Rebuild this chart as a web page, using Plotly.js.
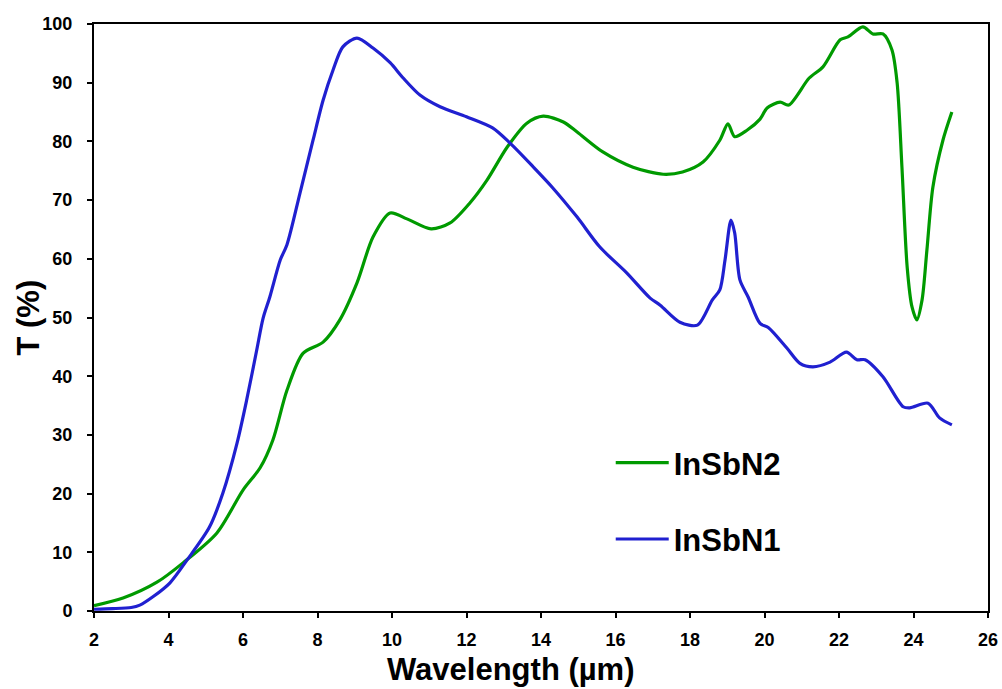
<!DOCTYPE html>
<html>
<head>
<meta charset="utf-8">
<script src="https://cdn.plot.ly/plotly-3.0.1.min.js"></script>
<style>html,body{margin:0;padding:0;background:#fff;}#chart{width:1002px;height:689px;}</style>
</head>
<body>
<div id="chart"></div>
<script>
// InSbN1 (blue)
const n1Wavelength = [2.0, 2.5, 3.0, 3.23, 3.6, 4.04, 4.5, 5.1, 5.46, 5.84, 6.1, 6.37, 6.54, 6.72, 7.0, 7.18, 7.53, 7.88, 8.15, 8.42, 8.68, 9.06, 9.49, 9.95, 10.3, 10.75, 11.29, 12.0, 12.7, 13.17, 13.8, 14.3, 14.97, 15.58, 16.3, 16.93, 17.2, 17.73, 18.2, 18.6, 18.8, 18.94, 19.1, 19.2, 19.34, 19.56, 19.88, 20.1, 20.6, 20.95, 21.3, 21.76, 22.2, 22.48, 22.7, 23.18, 23.72, 23.9, 24.39, 24.7, 25.03];
const n1T = [0.3, 0.4, 0.6, 1.0, 2.5, 4.8, 8.7, 14.3, 20.1, 28.6, 36.0, 44.5, 49.9, 53.5, 59.8, 62.4, 71.2, 80.2, 87.0, 92.2, 96.1, 97.6, 95.9, 93.4, 90.8, 87.9, 85.9, 84.2, 82.3, 79.7, 75.6, 72.2, 67.1, 62.0, 57.6, 53.3, 52.1, 49.2, 48.7, 53.0, 54.7, 59.8, 66.6, 64.4, 56.4, 53.5, 49.0, 48.3, 44.8, 42.2, 41.6, 42.4, 44.1, 42.8, 42.8, 39.9, 34.8, 34.6, 35.4, 32.9, 31.7];
// InSbN2 (green)
const n2Wavelength = [2.0, 2.78, 3.69, 4.39, 5.3, 6.0, 6.46, 6.8, 7.18, 7.61, 8.15, 8.6, 9.06, 9.49, 9.95, 10.4, 11.05, 11.56, 12.09, 12.55, 13.09, 13.62, 14.06, 14.6, 14.97, 15.66, 16.47, 17.28, 17.8, 18.35, 18.8, 19.02, 19.2, 19.53, 19.88, 20.07, 20.42, 20.65, 21.2, 21.57, 22.03, 22.24, 22.64, 22.91, 23.18, 23.42, 23.56, 23.69, 23.83, 23.96, 24.09, 24.23, 24.36, 24.52, 24.79, 25.03];
const n2T = [0.9, 2.2, 4.9, 8.2, 13.3, 20.6, 24.4, 29.1, 37.6, 43.9, 45.8, 49.6, 55.9, 63.7, 67.8, 66.8, 65.1, 66.1, 69.5, 73.4, 79.0, 83.1, 84.3, 83.3, 81.6, 78.2, 75.6, 74.4, 74.8, 76.5, 80.2, 83.0, 80.8, 81.9, 83.8, 85.7, 86.7, 86.2, 90.8, 92.7, 97.3, 97.8, 99.5, 98.3, 98.3, 95.6, 90.0, 75.6, 58.6, 51.8, 49.6, 53.0, 61.5, 72.2, 80.2, 85.0];
const xTicks = [2, 4, 6, 8, 10, 12, 14, 16, 18, 20, 22, 24, 26];
const yTicks = [0, 10, 20, 30, 40, 50, 60, 70, 80, 90, 100];
const xTitle = 'Wavelength (µm)';
const yTitle = 'T (%)';

const FONT = 'Liberation Sans, Arial, sans-serif';
const titleFont = {family: FONT, size: 31, color: '#000', weight: 'bold'};
const tickFont = {family: FONT, size: 18, color: '#000', weight: 'bold'};

const traces = [
  {x: n2Wavelength, y: n2T, name: 'InSbN2', type: 'scatter', mode: 'lines',
   line: {color: '#009a00', width: 3.2, shape: 'spline', smoothing: 0.8}, legendgroup: 'a'},
  {x: n1Wavelength, y: n1T, name: 'InSbN1', type: 'scatter', mode: 'lines',
   line: {color: '#2020d0', width: 3.2, shape: 'spline', smoothing: 0.8}, legendgroup: 'b'},
  // invisible helper trace so the tick-mark overlay axes get drawn
  {x: n1Wavelength, y: n1T, xaxis: 'x2', yaxis: 'y2', type: 'scatter', mode: 'lines',
   line: {color: 'rgba(0,0,0,0)', width: 0}, showlegend: false, hoverinfo: 'skip'}
];

const layout = {
  width: 1002, height: 689,
  margin: {l: 94, r: 14, t: 24, b: 78},
  paper_bgcolor: '#fff', plot_bgcolor: '#fff',
  showlegend: true,
  legend: {x: 0.578, y: 0.298, xanchor: 'left', yanchor: 'top', tracegroupgap: 33, itemwidth: 53,
           font: {family: FONT, size: 31, color: '#000', weight: 'bold'}, bgcolor: 'rgba(0,0,0,0)'},
  // primary axes carry the labels (pushed out by invisible long ticks)
  xaxis: {range: [2, 26], tickvals: xTicks, ticktext: xTicks.map(String), automargin: false,
          showgrid: false, zeroline: false, showline: true, mirror: true, linecolor: '#000', linewidth: 2,
          ticks: 'outside', ticklen: 11, tickwidth: 2, tickcolor: 'rgba(0,0,0,0)',
          tickfont: tickFont},
  yaxis: {range: [0, 100], tickvals: yTicks, ticktext: yTicks.map(String), automargin: false,
          showgrid: false, zeroline: false, showline: true, mirror: true, linecolor: '#000', linewidth: 2,
          ticks: 'outside', ticklen: 16, tickwidth: 2, tickcolor: 'rgba(0,0,0,0)',
          tickfont: tickFont},
  // overlay axes draw the visible short tick marks
  xaxis2: {overlaying: 'x', side: 'bottom', range: [2, 26], tickvals: xTicks, showticklabels: false,
           showgrid: false, zeroline: false, showline: false, automargin: false,
           ticks: 'outside', ticklen: 6, tickwidth: 2, tickcolor: '#000'},
  yaxis2: {overlaying: 'y', side: 'left', range: [0, 100], tickvals: yTicks, showticklabels: false,
           showgrid: false, zeroline: false, showline: false, automargin: false,
           ticks: 'outside', ticklen: 6, tickwidth: 2, tickcolor: '#000'},
  annotations: [
    {text: xTitle, xref: 'paper', yref: 'paper', x: 0.466, y: 0, xanchor: 'center', yanchor: 'middle',
     yshift: -58, showarrow: false, font: titleFont},
    {text: yTitle, xref: 'paper', yref: 'paper', x: -0.0738, y: 0.5, xanchor: 'center', yanchor: 'middle',
     textangle: -90, showarrow: false, font: titleFont}
  ]
};

Plotly.newPlot('chart', traces, layout, {displayModeBar: false, staticPlot: true});
</script>
</body>
</html>
